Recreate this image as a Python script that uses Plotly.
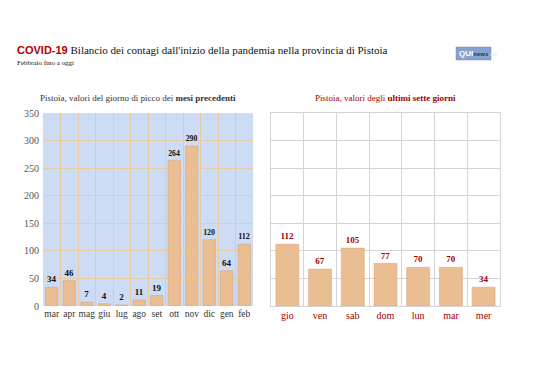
import plotly.graph_objects as go

months = ["mar", "apr", "mag", "giu", "lug", "ago", "set", "ott", "nov", "dic", "gen", "feb"]
month_values = [34, 46, 7, 4, 2, 11, 19, 264, 290, 120, 64, 112]
days = ["gio", "ven", "sab", "dom", "lun", "mar", "mer"]
day_values = [112, 67, 105, 77, 70, 70, 34]
y_ticks = [0, 50, 100, 150, 200, 250, 300, 350]

W, H = 538, 380
OFF = 8  # page body margin offset
def px(x): return (x - OFF) / W
def py(y): return 1 - (y - OFF) / H

SERIF = "Liberation Serif, DejaVu Serif, serif"
BAR = "#ebbd92"
BAR_LINE = "#d9a77a"
RED = "#a00000"

fig = go.Figure()
fig.add_trace(go.Bar(
    x=months, y=month_values, xaxis="x", yaxis="y",
    marker=dict(color=BAR, line=dict(color=BAR_LINE, width=0.6)),
    width=0.7,
    text=[f"<b>{v}</b>" for v in month_values], textposition="outside",
    textfont=dict(family=SERIF, size=9, color="#111"),
    cliponaxis=False, showlegend=False,
))
fig.add_trace(go.Bar(
    x=days, y=day_values, xaxis="x2", yaxis="y2",
    marker=dict(color=BAR, line=dict(color=BAR_LINE, width=0.6)),
    width=0.7,
    text=[f"<b>{v}</b>" for v in day_values], textposition="outside",
    textfont=dict(family=SERIF, size=9, color=RED),
    cliponaxis=False, showlegend=False,
))

fig.update_layout(
    width=W, height=H, margin=dict(l=0, r=0, t=0, b=0, autoexpand=False),
    paper_bgcolor="white", plot_bgcolor="white",
    bargap=0.3,
    xaxis=dict(domain=[px(43), px(253)], anchor="y", type="category",
               tickson="boundaries", ticks="", showgrid=True,
               gridcolor="#e8c9a0", gridwidth=1, tickangle=0, automargin=False,
               tickfont=dict(family=SERIF, size=9.5, color="#333"),
               showline=False, zeroline=False),
    yaxis=dict(domain=[py(306), py(113)], anchor="x", range=[0, 350],
               tickvals=y_ticks, showgrid=True, gridcolor="#e8c9a0",
               automargin=False, ticklabelstandoff=3,
               tickfont=dict(family=SERIF, size=10, color="#555"),
               ticks="", zeroline=False, showline=False),
    xaxis2=dict(domain=[px(271), px(500)], anchor="y2", type="category",
                tickson="boundaries", ticks="", showgrid=True, tickangle=0,
                gridcolor="#d4d4d4", gridwidth=1, automargin=False,
                tickfont=dict(family=SERIF, size=10, color=RED),
                showline=True, linecolor="#d4d4d4", mirror=True, zeroline=False),
    yaxis2=dict(domain=[py(306), py(113)], anchor="x2", range=[0, 350],
                tickvals=y_ticks, showgrid=True, gridcolor="#d4d4d4",
                showticklabels=False, ticks="", zeroline=False, automargin=False,
                showline=True, linecolor="#d4d4d4", mirror=True),
    shapes=[
        dict(type="rect", xref="paper", yref="paper",
             x0=px(43), x1=px(253), y0=py(306), y1=py(113),
             fillcolor="#cddcf5", line=dict(width=0), layer="below"),
        dict(type="rect", xref="paper", yref="paper",
             x0=px(456), x1=px(491), y0=py(60), y1=py(47),
             fillcolor="#86a3cf", line=dict(color="#6f8dbd", width=0.5)),
    ],
    annotations=[
        dict(xref="paper", yref="paper", x=px(15), y=py(50), xanchor="left", yanchor="middle",
             showarrow=False,
             text="<span style='font-family:Liberation Sans, Arial, sans-serif;color:#b00000'><b>COVID-19</b></span> "
                  "Bilancio dei contagi dall'inizio della pandemia nella provincia di Pistoia",
             font=dict(family=SERIF, size=11, color="#111")),
        dict(xref="paper", yref="paper", x=px(15), y=py(63), xanchor="left", yanchor="middle",
             showarrow=False, text="Febbraio fino a oggi",
             font=dict(family=SERIF, size=7, color="#111")),
        dict(xref="paper", yref="paper", x=px(457), y=py(53.5), xanchor="left", yanchor="middle",
             showarrow=False,
             text="<b>QUI</b><span style='font-size:6px;color:#2a3550'><b>news</b></span><span style='font-size:5px;color:#dde4f0'>.net</span>",
             font=dict(family="Liberation Sans", size=8, color="white")),
        dict(xref="paper", yref="paper", x=px(138), y=py(98), xanchor="center", yanchor="middle",
             showarrow=False,
             text="Pistoia, valori del giorno di picco dei <b>mesi precedenti</b>",
             font=dict(family=SERIF, size=9, color="#333")),
        dict(xref="paper", yref="paper", x=px(385), y=py(98), xanchor="center", yanchor="middle",
             showarrow=False,
             text="Pistoia, valori degli <b>ultimi sette giorni</b>",
             font=dict(family=SERIF, size=9, color=RED)),
    ],
)

fig.write_html("out.html")
